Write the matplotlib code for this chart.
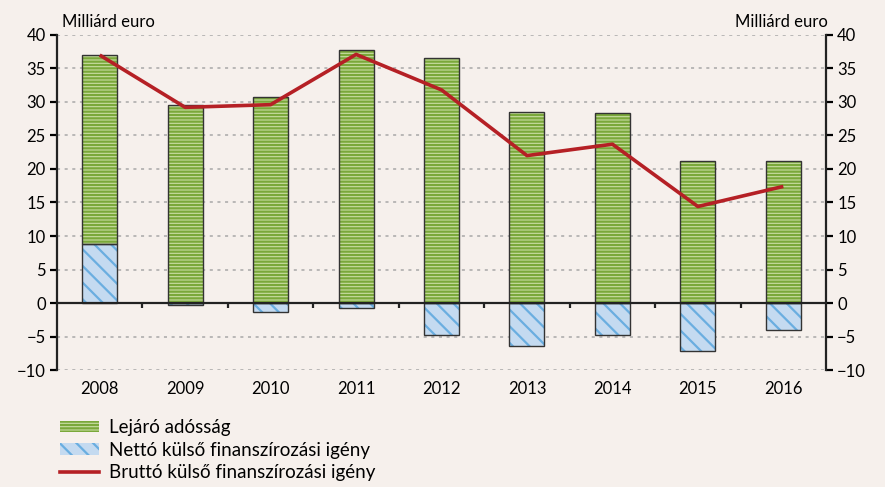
import numpy as np
import matplotlib.pyplot as plt
from matplotlib.patches import Patch
from matplotlib.lines import Line2D

plt.rcParams['font.family'] = ['Lato', 'DejaVu Sans']
plt.rcParams['hatch.linewidth'] = 1.6

years = ['2008', '2009', '2010', '2011', '2012', '2013', '2014', '2015', '2016']
lejaro = [28.2, 29.5, 30.7, 37.7, 36.5, 28.5, 28.3, 21.2, 21.2]  # green part
netto = [8.8, -0.3, -1.3, -0.8, -4.7, -6.4, -4.7, -7.1, -4.0]
brutto = [37.0, 29.2, 29.6, 37.1, 31.8, 22.0, 23.7, 14.4, 17.4]

bg = '#f6f0ec'
fig = plt.figure(figsize=(8.85, 4.87), dpi=100, facecolor=bg)
ax = fig.add_axes([0.0644, 0.2402, 0.869, 0.688])
ax.set_facecolor(bg)

x = np.arange(len(years))
w = 0.41
netto = np.array(netto)
green_bottom = np.where(netto > 0, netto, 0)

ax.bar(x, netto, w, color='#c4daf0', edgecolor='#6aaee0', hatch='\\\\', lw=0, zorder=2)
ax.bar(x, netto, w, color='none', edgecolor='#333333', lw=1.0, zorder=3)
ax.bar(x, lejaro, w, bottom=green_bottom, color='#c9dda3', edgecolor='#7aa83a', hatch='-----', lw=0, zorder=2)
ax.bar(x, lejaro, w, bottom=green_bottom, color='none', edgecolor='#333333', lw=1.0, zorder=3)

ax.plot(x, brutto, color='#b52025', lw=2.6, zorder=4, solid_capstyle='butt')

ax.axhline(0, color='#222222', lw=1.6, zorder=3)
ax.vlines(np.arange(len(years) - 1) + 0.5, -0.7, 0, color='#222222', lw=1.6, zorder=3)

ax.set_xlim(-0.5, len(years) - 0.5)
ax.set_ylim(-10, 40)
ax.set_yticks(np.arange(-10, 41, 5))
ax.set_yticklabels([str(v).replace('-', '\u2212') for v in range(-10, 41, 5)])
ax.set_xticks(x)
ax.set_xticklabels(years)
ax.tick_params(axis='x', length=0, pad=8, labelsize=12)
ax.tick_params(axis='y', direction='out', length=5, width=1.6, labelsize=12, pad=3,
               left=True, right=True, labelleft=True, labelright=True)
ax.yaxis.grid(True, ls=(0, (2, 3)), color='#a8a8a8', lw=1.1, zorder=0)
ax.set_axisbelow(True)
for s in ['top', 'bottom']:
    ax.spines[s].set_visible(False)
for s in ['left', 'right']:
    ax.spines[s].set_linewidth(1.6)
    ax.spines[s].set_color('#222222')

fig.text(0.07, 0.955, 'Milliárd euro', fontsize=12, ha='left', va='center')
fig.text(0.935, 0.955, 'Milliárd euro', fontsize=12, ha='right', va='center')

handles = [Patch(facecolor='#c9dda3', edgecolor='#7aa83a', hatch='-----', lw=0),
           Patch(facecolor='#c4daf0', edgecolor='#6aaee0', hatch='\\\\', lw=0),
           Line2D([], [], color='#b52025', lw=2.6)]
labels = ['Lejáró adósság', 'Nettó külső finanszírozási igény', 'Bruttó külső finanszírozási igény']
fig.legend(handles, labels, loc='upper left', bbox_to_anchor=(0.057, 0.158), frameon=False,
           fontsize=13.5, handlelength=2.1, handleheight=0.55, labelspacing=0.28,
           handletextpad=0.5, borderpad=0)

fig.savefig('out.png', dpi=100, facecolor=bg)
